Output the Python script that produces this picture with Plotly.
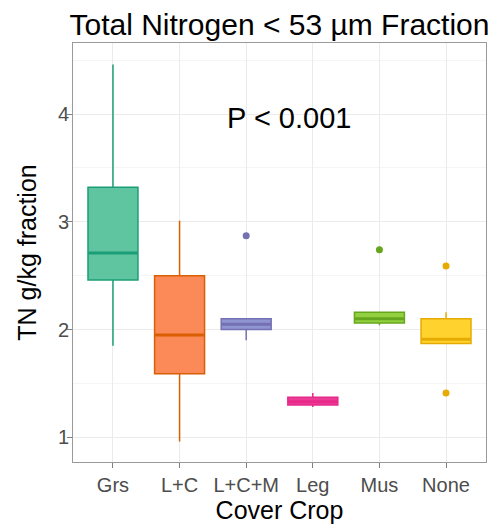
import plotly.graph_objects as go

categories = ["Grs", "L+C", "L+C+M", "Leg", "Mus", "None"]
q1 = [2.46, 1.59, 2.00, 1.30, 2.06, 1.87]
median = [2.71, 1.95, 2.05, 1.33, 2.10, 1.91]
q3 = [3.32, 2.50, 2.10, 1.37, 2.16, 2.10]
lower = [1.85, 0.96, 1.90, 1.28, 2.04, 1.87]
upper = [4.46, 3.01, 2.10, 1.41, 2.16, 2.16]
outlier_cat = ["L+C+M", "Mus", "None", "None"]
outlier_val = [2.87, 2.74, 2.59, 1.41]

fills = ["#5fc4a0", "#fc8a58", "#8f95d0", "#ec3c96", "#92d040", "#ffd22e"]
lines = ["#1b9e77", "#d95f02", "#7570b3", "#e7298a", "#66a61e", "#e6ab02"]
line_by_cat = dict(zip(categories, lines))

FONT = "Liberation Sans, Arial, sans-serif"
BOX_W = 0.75

fig = go.Figure()
for i, c in enumerate(categories):
    fig.add_trace(go.Box(
        x=[c], q1=[q1[i]], median=[median[i]], q3=[q3[i]],
        lowerfence=[lower[i]], upperfence=[upper[i]],
        fillcolor=fills[i], line=dict(color=lines[i], width=1.5),
        width=BOX_W, whiskerwidth=0, boxpoints=False, showlegend=False,
        hoverinfo="skip",
    ))
    # thicker median line, like ggplot's fatten
    fig.add_shape(type="line", xref="x", yref="y",
                  x0=i - BOX_W / 2 + 0.01, x1=i + BOX_W / 2 - 0.01,
                  y0=median[i], y1=median[i],
                  line=dict(color=lines[i], width=3))

fig.add_trace(go.Scatter(
    x=outlier_cat, y=outlier_val, mode="markers",
    marker=dict(color=[line_by_cat[c] for c in outlier_cat], size=7),
    showlegend=False, hoverinfo="skip",
))

fig.add_annotation(x=2.65, y=3.96, xref="x", yref="y", text="P < 0.001",
                   showarrow=False, font=dict(family=FONT, size=29, color="black"))

fig.update_layout(
    width=500, height=528,
    margin=dict(l=73, r=14, t=43, b=61, pad=0),
    paper_bgcolor="white", plot_bgcolor="white",
    boxmode="overlay",
    font=dict(family=FONT, color="black"),
    title=dict(text="Total Nitrogen < 53 µm Fraction", x=0.5, xref="paper",
               y=1 - 24 / 528, yref="container", yanchor="middle", xanchor="center",
               font=dict(family=FONT, size=30, color="black")),
)
fig.update_xaxes(
    type="category", categoryorder="array", categoryarray=categories,
    range=[-0.6, 5.6],
    showline=True, mirror=True, linecolor="#9a9a9a", linewidth=1,
    showgrid=True, gridcolor="#ebebeb", gridwidth=1,
    ticks="outside", ticklen=5, tickcolor="#7f7f7f", tickwidth=1,
    tickfont=dict(family=FONT, size=20, color="#4d4d4d"),
    title=dict(text="Cover Crop", font=dict(family=FONT, size=25, color="black"), standoff=2),
    zeroline=False,
)
fig.update_yaxes(
    range=[0.77, 4.66], tickvals=[1, 2, 3, 4],
    showline=True, mirror=True, linecolor="#9a9a9a", linewidth=1,
    showgrid=True, gridcolor="#ebebeb", gridwidth=1,
    minor=dict(tickvals=[1.5, 2.5, 3.5, 4.5], showgrid=True, gridcolor="#f5f5f5", ticks=""),
    ticks="outside", ticklen=5, tickcolor="#7f7f7f", tickwidth=1,
    ticklabelstandoff=-6,
    tickfont=dict(family=FONT, size=20, color="#4d4d4d"),
    title=dict(text="TN g/kg fraction", font=dict(family=FONT, size=25, color="black"), standoff=14),
    zeroline=False,
)

fig.write_html("out.html")
